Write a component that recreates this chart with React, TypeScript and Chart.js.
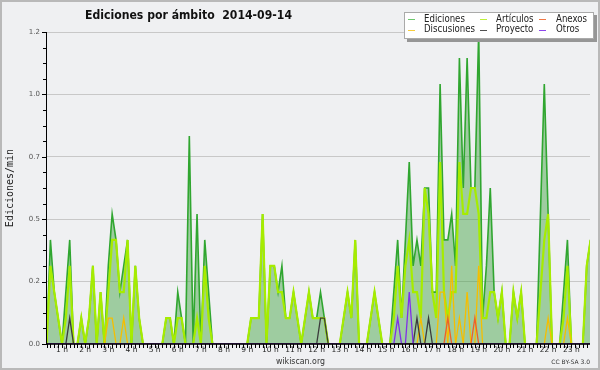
import React, { useEffect, useRef } from 'react';
import { Chart, registerables } from 'chart.js';

Chart.register(...registerables);

// First 10-minute slot shown (slot 2 = 00:20); one value per 10 minutes.
const START_SLOT = 2;

// Ediciones (total) per minute, grouped by hour
const ediciones = [
  0, 0.417, 0.208, 0.104, // 0 h (00:20-00:50)
  0, 0.208, 0.417, 0, 0, 0.104, // 1 h
  0, 0.104, 0.313, 0, 0.208, 0, // 2 h
  0.313, 0.521, 0.417, 0.208, 0.313, 0.417, // 3 h
  0, 0.313, 0.104, 0, 0, 0, // 4 h
  0, 0, 0, 0.104, 0.104, 0, // 5 h
  0.208, 0.104, 0, 0.833, 0, 0.521, // 6 h
  0, 0.417, 0.208, 0, 0, 0, // 7 h
  0, 0, 0, 0, 0, 0, // 8 h
  0, 0.104, 0.104, 0.104, 0.521, 0, // 9 h
  0.313, 0.313, 0.208, 0.313, 0.104, 0.104, // 10 h
  0.208, 0.104, 0, 0.104, 0.208, 0.104, // 11 h
  0.104, 0.208, 0.104, 0, 0, 0, // 12 h
  0, 0.104, 0.208, 0.104, 0.417, 0, // 13 h
  0, 0, 0.104, 0.208, 0.104, 0, // 14 h
  0, 0, 0.208, 0.417, 0.104, 0.417, // 15 h
  0.729, 0.313, 0.417, 0.313, 0.625, 0.625, // 16 h
  0.208, 0.208, 1.042, 0.417, 0.417, 0.521, // 17 h
  0.313, 1.146, 0.625, 1.146, 0.625, 0.625, // 18 h
  1.25, 0.104, 0.313, 0.625, 0.208, 0.104, // 19 h
  0.208, 0, 0, 0.208, 0.104, 0.208, // 20 h
  0, 0, 0, 0, 0.521, 1.042, // 21 h
  0.521, 0, 0, 0, 0.208, 0.417, // 22 h
  0, 0, 0, 0, 0.313, 0.417, // 23 h
];

const articulos = [
  0, 0.313, 0.208, 0.104,
  0, 0.104, 0.313, 0, 0, 0.104,
  0, 0.104, 0.313, 0, 0.208, 0,
  0.208, 0.417, 0.417, 0.208, 0.208, 0.417,
  0, 0.313, 0.104, 0, 0, 0,
  0, 0, 0, 0.104, 0.104, 0,
  0.104, 0.104, 0, 0, 0, 0.104,
  0, 0.313, 0.104, 0, 0, 0,
  0, 0, 0, 0, 0, 0,
  0, 0.104, 0.104, 0.104, 0.521, 0,
  0.313, 0.313, 0.208, 0.208, 0.104, 0.104,
  0.208, 0.104, 0, 0.104, 0.208, 0.104,
  0.104, 0.104, 0.104, 0, 0, 0,
  0, 0.104, 0.208, 0.104, 0.417, 0,
  0, 0, 0.104, 0.208, 0.104, 0,
  0, 0, 0.104, 0.313, 0.104, 0.313,
  0.417, 0.208, 0.208, 0.104, 0.625, 0.521,
  0.208, 0.104, 0.729, 0.208, 0.104, 0.208,
  0.208, 0.729, 0.521, 0.521, 0.625, 0.625,
  0.521, 0.104, 0.104, 0.208, 0.208, 0.104,
  0.208, 0, 0, 0.208, 0.104, 0.208,
  0, 0, 0, 0, 0.208, 0.417,
  0.521, 0, 0, 0, 0.104, 0.313,
  0, 0, 0, 0, 0.313, 0.417,
];

const discusiones = [
  0, 0, 0, 0,
  0, 0, 0, 0, 0, 0,
  0, 0, 0, 0, 0, 0,
  0.104, 0.104, 0, 0, 0.104, 0,
  0, 0, 0, 0, 0, 0,
  0, 0, 0, 0, 0, 0,
  0, 0, 0, 0, 0, 0,
  0, 0, 0, 0, 0, 0,
  0, 0, 0, 0, 0, 0,
  0, 0, 0, 0, 0, 0,
  0, 0, 0, 0, 0, 0,
  0, 0, 0, 0, 0, 0,
  0, 0, 0, 0, 0, 0,
  0, 0, 0, 0, 0, 0,
  0, 0, 0, 0, 0, 0,
  0, 0, 0, 0, 0, 0,
  0, 0, 0, 0.104, 0, 0,
  0, 0, 0.208, 0.208, 0, 0.313,
  0, 0.104, 0, 0.208, 0, 0,
  0.313, 0, 0, 0, 0, 0,
  0, 0, 0, 0, 0, 0,
  0, 0, 0, 0, 0, 0,
  0.104, 0, 0, 0, 0, 0.104,
  0, 0, 0, 0, 0, 0,
];

const anexos = [
  0, 0, 0, 0,
  0, 0, 0, 0, 0, 0,
  0, 0, 0, 0, 0, 0,
  0, 0, 0, 0, 0, 0,
  0, 0, 0, 0, 0, 0,
  0, 0, 0, 0, 0, 0,
  0, 0, 0, 0, 0, 0,
  0, 0, 0, 0, 0, 0,
  0, 0, 0, 0, 0, 0,
  0, 0, 0, 0, 0, 0,
  0, 0, 0, 0, 0, 0,
  0, 0, 0, 0, 0, 0,
  0, 0, 0, 0, 0, 0,
  0, 0, 0, 0, 0, 0,
  0, 0, 0, 0, 0, 0,
  0, 0, 0, 0, 0, 0,
  0, 0, 0, 0, 0, 0,
  0, 0, 0, 0, 0.104, 0,
  0, 0, 0, 0, 0, 0.104,
  0, 0, 0, 0, 0, 0,
  0, 0, 0, 0, 0, 0,
  0, 0, 0, 0, 0, 0,
  0, 0, 0, 0, 0, 0,
  0, 0, 0, 0, 0, 0,
];

const proyecto = [
  0, 0, 0, 0,
  0, 0, 0.104, 0, 0, 0,
  0, 0, 0, 0, 0, 0,
  0, 0, 0, 0, 0, 0,
  0, 0, 0, 0, 0, 0,
  0, 0, 0, 0, 0, 0,
  0, 0, 0, 0, 0, 0,
  0, 0, 0, 0, 0, 0,
  0, 0, 0, 0, 0, 0,
  0, 0, 0, 0, 0, 0,
  0, 0, 0, 0, 0, 0,
  0, 0, 0, 0, 0, 0,
  0, 0.104, 0.104, 0, 0, 0,
  0, 0, 0, 0, 0, 0,
  0, 0, 0, 0, 0, 0,
  0, 0, 0, 0, 0, 0,
  0, 0, 0.104, 0, 0, 0.104,
  0, 0, 0, 0, 0, 0,
  0, 0, 0, 0, 0, 0,
  0, 0, 0, 0, 0, 0,
  0, 0, 0, 0, 0, 0,
  0, 0, 0, 0, 0, 0,
  0, 0, 0, 0, 0, 0,
  0, 0, 0, 0, 0, 0,
];

const otros = [
  0, 0, 0, 0,
  0, 0, 0, 0, 0, 0,
  0, 0, 0, 0, 0, 0,
  0, 0, 0, 0, 0, 0,
  0, 0, 0, 0, 0, 0,
  0, 0, 0, 0, 0, 0,
  0, 0, 0, 0, 0, 0,
  0, 0, 0, 0, 0, 0,
  0, 0, 0, 0, 0, 0,
  0, 0, 0, 0, 0, 0,
  0, 0, 0, 0, 0, 0,
  0, 0, 0, 0, 0, 0,
  0, 0, 0, 0, 0, 0,
  0, 0, 0, 0, 0, 0,
  0, 0, 0, 0, 0, 0,
  0, 0, 0, 0.104, 0, 0,
  0.208, 0, 0, 0, 0, 0,
  0, 0, 0, 0, 0, 0,
  0, 0, 0, 0, 0, 0,
  0, 0, 0, 0, 0, 0,
  0, 0, 0, 0, 0, 0,
  0, 0, 0, 0, 0, 0,
  0, 0, 0, 0, 0, 0,
  0, 0, 0, 0, 0, 0,
];

const hourTicks = [1, 2, 3, 4, 5, 6, 7, 8, 9, 10, 11, 12, 13, 14, 15, 16, 17, 18, 19, 20, 21, 22, 23];
const yTicks = [0, 0.25, 0.5, 0.75, 1.0, 1.25];

const TITLE = 'Ediciones por ámbito  2014-09-14';
const Y_TITLE = 'Ediciones/min';
const FOOTER = 'wikiscan.org';
const LICENSE = 'CC BY-SA 3.0';

const SERIES = [
  { label: 'Ediciones', data: ediciones, color: 'rgb(48,166,48)', legend: 'rgb(110,200,110)', width: 1.6, order: 10 },
  { label: 'Artículos', data: articulos, color: 'rgb(166,236,0)', legend: 'rgb(190,240,60)', width: 2.2, order: 9 },
  { label: 'Anexos', data: anexos, color: 'rgb(240,96,40)', legend: 'rgb(240,120,70)', width: 1.3, order: 7 },
  { label: 'Discusiones', data: discusiones, color: 'rgb(245,190,0)', legend: 'rgb(248,205,60)', width: 1.3, order: 8 },
  { label: 'Proyecto', data: proyecto, color: 'rgb(60,60,60)', legend: 'rgb(80,80,80)', width: 1.3, order: 6 },
  { label: 'Otros', data: otros, color: 'rgb(128,48,232)', legend: 'rgb(140,70,235)', width: 1.3, order: 5 },
];

const BG = 'rgb(239,240,242)';
const X_MIN = 0.309;
const X_MAX = 23.808;
const Y_MAX = 1.25;

const toPoints = (vals: number[]) => vals.map((v, i) => ({ x: (START_SLOT + i) / 6, y: v }));

const decor = {
  id: 'decor',
  beforeDraw(chart: any) {
    const ctx = chart.ctx;
    ctx.save();
    ctx.fillStyle = BG;
    ctx.fillRect(0, 0, chart.width, chart.height);
    ctx.restore();
  },
  afterDatasetsDraw(chart: any) {
    const { ctx, chartArea: a, scales } = chart;
    const x = scales.x;
    const y = scales.y;
    ctx.save();
    ctx.strokeStyle = '#000';
    ctx.lineWidth = 1;
    // y ticks (major + minor)
    ctx.beginPath();
    for (let i = 0; i <= 20; i++) {
      const v = i * 0.0625;
      const py = Math.round(y.getPixelForValue(v)) + 0.5;
      const len = i % 4 === 0 ? 4 : 3;
      ctx.moveTo(a.left - len, py);
      ctx.lineTo(a.left, py);
    }
    ctx.stroke();
    // x ticks every 10 minutes
    ctx.beginPath();
    for (let k = 2; k <= 142; k++) {
      const px = Math.round(x.getPixelForValue(k / 6)) + 0.5;
      ctx.moveTo(px, a.bottom);
      ctx.lineTo(px, a.bottom + 4);
    }
    ctx.stroke();
    // axes
    ctx.beginPath();
    ctx.moveTo(a.left + 0.5, a.top);
    ctx.lineTo(a.left + 0.5, a.bottom + 1);
    ctx.stroke();
    ctx.lineWidth = 1.6;
    ctx.beginPath();
    ctx.moveTo(a.left, a.bottom);
    ctx.lineTo(a.right, a.bottom);
    ctx.stroke();
    ctx.restore();
  },
  afterDraw(chart: any) {
    const ctx = chart.ctx;
    ctx.save();
    // title
    ctx.fillStyle = '#111';
    ctx.font = 'bold 12.5px "DejaVu Sans"';
    ctx.textAlign = 'left';
    ctx.textBaseline = 'alphabetic';
    ctx.fillText(TITLE, 85, 19, 207);
    // y title
    ctx.save();
    ctx.translate(10, 188);
    ctx.rotate(-Math.PI / 2);
    ctx.font = '10px "DejaVu Sans Mono"';
    ctx.textAlign = 'center';
    ctx.textBaseline = 'middle';
    ctx.fillStyle = '#222';
    ctx.fillText(Y_TITLE, 0, 0);
    ctx.restore();
    // footer
    ctx.font = '9px "DejaVu Sans"';
    ctx.fillStyle = '#333';
    ctx.textAlign = 'center';
    ctx.textBaseline = 'middle';
    ctx.fillText(FOOTER, 300.5, 361.5, 49);
    ctx.font = '6px "DejaVu Sans"';
    ctx.textAlign = 'right';
    ctx.fillText(LICENSE, 590, 362, 42);
    // legend
    ctx.fillStyle = 'rgb(150,150,150)';
    ctx.fillRect(407, 15, 190, 27);
    ctx.fillStyle = '#fff';
    ctx.fillRect(404, 12, 190, 27);
    ctx.strokeStyle = 'rgb(170,170,170)';
    ctx.lineWidth = 1;
    ctx.strokeRect(404.5, 12.5, 189, 26);
    const cols = [
      { sw: 408, tx: 424 },
      { sw: 480, tx: 496 },
      { sw: 539, tx: 556 },
    ];
    const rows = [19, 29.5];
    ctx.font = '10px "DejaVu Sans"';
    ctx.textAlign = 'left';
    ctx.textBaseline = 'middle';
    SERIES.forEach((s, i) => {
      const c = cols[i % 3];
      const r = rows[Math.floor(i / 3)];
      ctx.strokeStyle = s.legend;
      ctx.lineWidth = 1;
      ctx.beginPath();
      ctx.moveTo(c.sw, Math.round(r) + 0.5);
      ctx.lineTo(c.sw + 7, Math.round(r) + 0.5);
      ctx.stroke();
      ctx.fillStyle = '#222';
      const w = ctx.measureText(s.label).width;
      ctx.fillText(s.label, c.tx, r, w * 0.86);
    });
    // outer border
    ctx.strokeStyle = 'rgb(185,185,185)';
    ctx.lineWidth = 2;
    ctx.strokeRect(1, 1, chart.width - 2, chart.height - 2);
    ctx.restore();
  },
};

export default function App() {
  const ref = useRef<HTMLCanvasElement | null>(null);

  useEffect(() => {
    document.body.style.margin = '0';
    const canvas = ref.current;
    if (!canvas) return;
    const datasets = SERIES.map((s, i) => ({
      label: s.label,
      data: toPoints(s.data),
      borderColor: s.color,
      borderWidth: s.width,
      backgroundColor: i === 0 ? 'rgba(60,160,60,0.45)' : s.color,
      fill: i === 0 ? 'origin' : false,
      pointRadius: 0,
      tension: 0,
      order: s.order,
      borderJoinStyle: 'miter' as const,
    }));
    const chart = new Chart(canvas, {
      type: 'line',
      data: { datasets },
      plugins: [decor],
      options: {
        animation: false,
        responsive: false,
        devicePixelRatio: 1,
        layout: { padding: { top: 32, right: 10, bottom: 0, left: 0 } },
        plugins: { legend: { display: false }, title: { display: false }, tooltip: { enabled: false } },
        scales: {
          x: {
            type: 'linear',
            min: X_MIN,
            max: X_MAX,
            grid: { display: false, drawTicks: false, tickLength: 0 },
            border: { display: false },
            afterBuildTicks: (scale: any) => {
              scale.ticks = hourTicks.map((v) => ({ value: v }));
            },
            afterFit: (scale: any) => {
              scale.height = 26;
            },
            ticks: {
              autoSkip: false,
              maxRotation: 0,
              padding: 2,
              color: '#222',
              font: { family: '"DejaVu Sans"', size: 7.5 },
              callback: (v: any) => `${v} h`,
            },
          },
          y: {
            type: 'linear',
            min: 0,
            max: Y_MAX,
            grid: { color: 'rgb(200,200,200)', tickColor: 'rgba(0,0,0,0)', tickLength: 4, drawTicks: true },
            border: { display: false },
            afterBuildTicks: (scale: any) => {
              scale.ticks = yTicks.map((v) => ({ value: v }));
            },
            afterFit: (scale: any) => {
              scale.width = 46;
            },
            ticks: {
              padding: 2,
              color: '#555',
              font: { family: '"DejaVu Sans"', size: 7 },
              callback: (v: any) => (Math.floor(Number(v) * 10 + 1e-9) / 10).toFixed(1),
            },
          },
        },
      },
    });
    return () => chart.destroy();
  }, []);

  return (
    <div style={{ width: 600, height: 370 }}>
      <canvas ref={ref} width={600} height={370} style={{ width: 600, height: 370, display: 'block' }} />
    </div>
  );
}
